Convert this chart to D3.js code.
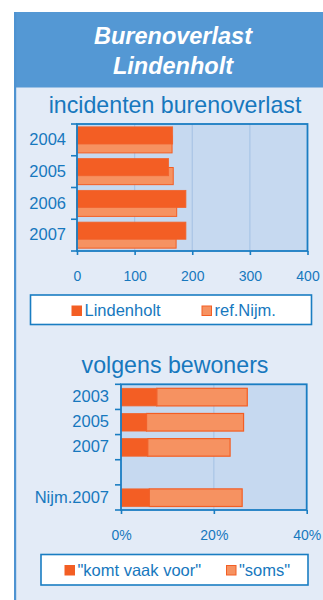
<!DOCTYPE html>
<html>
<head>
<meta charset="utf-8">
<script src="https://cdn.jsdelivr.net/npm/d3@7/dist/d3.min.js"></script>
<style>
  html, body { margin: 0; padding: 0; background: #ffffff; }
  svg { display: block; font-family: "Liberation Sans", Arial, sans-serif; }
</style>
</head>
<body>
<svg id="chart" width="323" height="600"></svg>
<script>
// Incidents of neighbour nuisance per year
const years = ["2004", "2005", "2006", "2007"];
const lindenholt = [166, 159, 189, 189];
const refNijm = [165, 167, 173, 172];
const incidentTicks = [0, 100, 200, 300, 400];

// Share of residents reporting nuisance (%)
const surveyCats = ["2003", "2005", "2007", "", "Nijm.2007"];
const vaakVoor = [7.7, 5.5, 5.75, null, 6.1];
const soms = [19.5, 20.9, 17.75, null, 20.0];
const percentTicks = [0, 20, 40];
const percentLabels = ["0%", "20%", "40%"];

const C = {
  panel: "#E3EBF7",
  header: "#5498D4",
  edge: "#4E93D1",
  plot: "#C6D9F0",
  grid: "#A9C5E6",
  axis: "#1A7DC2",
  text: "#1778BE",
  dark: "#F35E24",
  light: "#F69261"
};

const svg = d3.select("#chart");

// panel and header band
svg.append("rect").attr("x", 14).attr("y", 12).attr("width", 330).attr("height", 600).attr("fill", C.panel);
svg.append("rect").attr("x", 14).attr("y", 12).attr("width", 330).attr("height", 75.5).attr("fill", C.header);
svg.append("rect").attr("x", 14).attr("y", 12).attr("width", 2.2).attr("height", 600).attr("fill", C.edge);

svg.append("text").attr("x", 173).attr("y", 43.5).attr("text-anchor", "middle")
  .attr("fill", "#ffffff").attr("font-size", 23.5).attr("font-weight", "bold").attr("font-style", "italic")
  .text("Burenoverlast");
svg.append("text").attr("x", 173).attr("y", 74).attr("text-anchor", "middle")
  .attr("fill", "#ffffff").attr("font-size", 23.5).attr("font-weight", "bold").attr("font-style", "italic")
  .text("Lindenholt");

function title(txt, y) {
  svg.append("text").attr("x", 175).attr("y", y).attr("text-anchor", "middle")
    .attr("fill", C.text).attr("font-size", 23.2).text(txt);
}

function plotFrame(x0, x1, y0, y1) {
  svg.append("rect").attr("x", x0).attr("y", y0).attr("width", x1 - x0).attr("height", y1 - y0)
    .attr("fill", C.plot);
}

function frameBorder(x0, x1, y0, y1) {
  svg.append("rect").attr("x", x0).attr("y", y0).attr("width", x1 - x0).attr("height", y1 - y0)
    .attr("fill", "none").attr("stroke", C.axis).attr("stroke-width", 1.8);
}

function styleAxis(g, fontSize) {
  g.select(".domain").remove();
  g.selectAll(".tick line").attr("stroke", C.axis).attr("stroke-width", 1.6);
  g.selectAll(".tick text").attr("fill", C.text).attr("font-size", fontSize)
    .attr("font-family", "Liberation Sans, Arial, sans-serif");
}

function bandTicks(yScale, cats, x0) {
  const edges = cats.map(c => yScale(c)).concat([yScale.range()[1]]);
  svg.append("g").selectAll("line").data(edges).join("line")
    .attr("x1", x0 - 6).attr("x2", x0).attr("y1", d => d).attr("y2", d => d)
    .attr("stroke", C.axis).attr("stroke-width", 1.6);
}

function legend(x0, x1, y0, y1, items) {
  svg.append("rect").attr("x", x0).attr("y", y0).attr("width", x1 - x0).attr("height", y1 - y0)
    .attr("fill", "#ffffff").attr("stroke", C.axis).attr("stroke-width", 1.6);
  items.forEach(it => {
    svg.append("rect").attr("x", it.x).attr("y", it.y - 10).attr("width", 9.5).attr("height", 9.5)
      .attr("fill", it.fill).attr("stroke", C.dark).attr("stroke-width", 1);
    svg.append("text").attr("x", it.x + 12.5).attr("y", it.y).attr("fill", C.text)
      .attr("font-size", 16.5).text(it.label);
  });
}

// ---- chart 1: incidenten burenoverlast ----
title("incidenten burenoverlast", 112.5);
const p1 = { x0: 77, x1: 307.5, y0: 124, y1: 251 };
const x1s = d3.scaleLinear().domain([0, 400]).range([p1.x0, p1.x1]);
const y1s = d3.scaleBand().domain(years).range([p1.y0, p1.y1]).paddingInner(0).paddingOuter(0);
const bw1 = y1s.bandwidth();

plotFrame(p1.x0, p1.x1, p1.y0, p1.y1);
svg.append("g").selectAll("line").data([100, 200, 300]).join("line")
  .attr("x1", d => x1s(d)).attr("x2", d => x1s(d)).attr("y1", p1.y0).attr("y2", p1.y1)
  .attr("stroke", C.grid).attr("stroke-width", 1.2);

svg.append("g").selectAll("rect").data(years).join("rect")
  .attr("x", x1s(0)).attr("y", d => y1s(d) + bw1 * 0.37)
  .attr("width", (d, i) => x1s(refNijm[i]) - x1s(0)).attr("height", bw1 * 0.54)
  .attr("fill", C.light).attr("stroke", C.dark).attr("stroke-width", 1);
svg.append("g").selectAll("rect").data(years).join("rect")
  .attr("x", x1s(0)).attr("y", d => y1s(d) + bw1 * 0.09)
  .attr("width", (d, i) => x1s(lindenholt[i]) - x1s(0)).attr("height", bw1 * 0.54)
  .attr("fill", C.dark).attr("stroke", "#F0642E").attr("stroke-width", 0.8);

frameBorder(p1.x0, p1.x1, p1.y0, p1.y1);
bandTicks(y1s, years, p1.x0);

const ax1 = svg.append("g").attr("transform", `translate(0,${p1.y1})`)
  .call(d3.axisBottom(x1s).tickValues(incidentTicks).tickSize(4).tickPadding(16).tickSizeOuter(0));
styleAxis(ax1, 14);
const ay1 = svg.append("g").attr("transform", `translate(${p1.x0},0)`)
  .call(d3.axisLeft(y1s).tickSize(0).tickPadding(11));
styleAxis(ay1, 16.5);

legend(30.5, 311.5, 295, 324.5, [
  { x: 72, y: 316, fill: C.dark, label: "Lindenholt" },
  { x: 202, y: 316, fill: C.light, label: "ref.Nijm." }
]);

// ---- chart 2: volgens bewoners ----
title("volgens bewoners", 372.5);
const p2 = { x0: 121, x1: 306.7, y0: 384.3, y1: 510 };
const x2s = d3.scaleLinear().domain([0, 40]).range([p2.x0, p2.x1]);
const y2s = d3.scaleBand().domain(surveyCats).range([p2.y0, p2.y1]).paddingInner(0).paddingOuter(0);
const bw2 = y2s.bandwidth();

plotFrame(p2.x0, p2.x1, p2.y0, p2.y1);
svg.append("line").attr("x1", x2s(20)).attr("x2", x2s(20)).attr("y1", p2.y0).attr("y2", p2.y1)
  .attr("stroke", C.grid).attr("stroke-width", 1.2);

const rows = surveyCats.map((c, i) => ({ c, v: vaakVoor[i], s: soms[i] })).filter(d => d.v != null);
svg.append("g").selectAll("rect").data(rows).join("rect")
  .attr("x", d => x2s(d.v)).attr("y", d => y2s(d.c) + bw2 * 0.16)
  .attr("width", d => x2s(d.v + d.s) - x2s(d.v)).attr("height", bw2 * 0.70)
  .attr("fill", C.light).attr("stroke", C.dark).attr("stroke-width", 1.2);
svg.append("g").selectAll("rect").data(rows).join("rect")
  .attr("x", x2s(0)).attr("y", d => y2s(d.c) + bw2 * 0.16)
  .attr("width", d => x2s(d.v) - x2s(0)).attr("height", bw2 * 0.70)
  .attr("fill", C.dark).attr("stroke", "#F0642E").attr("stroke-width", 0.8);

frameBorder(p2.x0, p2.x1, p2.y0, p2.y1);
bandTicks(y2s, surveyCats, p2.x0);

const ax2 = svg.append("g").attr("transform", `translate(0,${p2.y1})`)
  .call(d3.axisBottom(x2s).tickValues(percentTicks).tickFormat((d, i) => percentLabels[i])
    .tickSize(4).tickPadding(16).tickSizeOuter(0));
styleAxis(ax2, 14);
const ay2 = svg.append("g").attr("transform", `translate(${p2.x0},0)`)
  .call(d3.axisLeft(y2s).tickSize(0).tickPadding(12));
styleAxis(ay2, 16.5);

legend(41, 308, 554.5, 585, [
  { x: 65, y: 575.5, fill: C.dark, label: "\"komt vaak voor\"" },
  { x: 226.5, y: 575.5, fill: C.light, label: "\"soms\"" }
]);
</script>
</body>
</html>
